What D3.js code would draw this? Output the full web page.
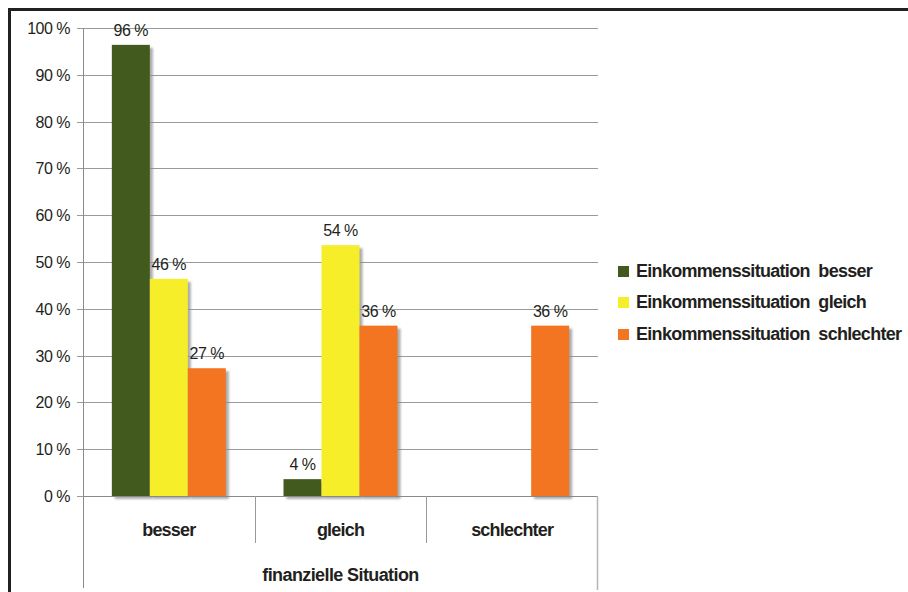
<!DOCTYPE html>
<html><head><meta charset="utf-8">
<script src="https://cdn.jsdelivr.net/npm/d3@7"></script>
<style>body{margin:0;background:#fff}svg{display:block}</style>
</head><body>
<script>
const categories = ["besser", "gleich", "schlechter"];
const seriesNames = ["Einkommenssituation  besser", "Einkommenssituation  gleich", "Einkommenssituation  schlechter"];
const seriesBesser = [96.4, 3.6, 0];
const seriesGleich = [46.4, 53.6, 0];
const seriesSchlechter = [27.3, 36.4, 36.4];
const valueLabels = [["96 %", "4 %", null], ["46 %", "54 %", null], ["27 %", "36 %", "36 %"]];
const yTicks = [0,10,20,30,40,50,60,70,80,90,100];
const colors = ["#425a1e", "#f7ee2a", "#f37421"];
const groupTitle = "finanzielle Situation";

const series = [seriesBesser, seriesGleich, seriesSchlechter];
const W = 908, H = 592;
const L = 83, R = 598, T = 28, B = 496;
const svg = d3.select("body").append("svg").attr("width", W).attr("height", H);
const font = "'Liberation Sans', Arial, sans-serif";

const defs = svg.append("defs");
const f = defs.append("filter").attr("id","sh").attr("x","-20%").attr("y","-20%").attr("width","160%").attr("height","160%");
f.append("feGaussianBlur").attr("stdDeviation", 1.2);

// frame
svg.append("line").attr("x1",8).attr("x2",W).attr("y1",9.5).attr("y2",9.5).attr("stroke","#231f20").attr("stroke-width",3);
svg.append("line").attr("x1",9.5).attr("x2",9.5).attr("y1",8).attr("y2",H).attr("stroke","#231f20").attr("stroke-width",3);

const y = d3.scaleLinear().domain([0,100]).range([B,T]);
const x0 = d3.scaleBand().domain(categories).range([L,R]).paddingInner(0).paddingOuter(0);
const x1 = d3.scaleBand().domain(d3.range(3)).range([0, 114]);
const groupOffset = (x0.bandwidth() - 114)/2;

// gridlines
svg.append("g").selectAll("line").data(yTicks).join("line")
  .attr("x1", L-6).attr("x2", R).attr("y1", d=>Math.round(y(d))+0.5).attr("y2", d=>Math.round(y(d))+0.5)
  .attr("stroke", "#9a9a9a").attr("stroke-width", 1);

// y labels
svg.append("g").selectAll("text").data(yTicks).join("text")
  .attr("x", 70).attr("y", d=>y(d)+6).attr("text-anchor","end")
  .attr("font-family", font).attr("font-size", 16).attr("fill","#231f20").attr("letter-spacing","-0.5")
  .text(d=>d+" %");

// bars
const bars = svg.append("g");
series.forEach((s, si) => {
  s.forEach((v, ci) => {
    if (v <= 0) return;
    const bx = x0(categories[ci]) + groupOffset + x1(si);
    const by = y(v), bh = B - y(v), bw = x1.bandwidth();
    bars.append("rect").attr("x", bx+3).attr("y", by+3).attr("width", bw).attr("height", bh)
      .attr("fill","#8a8a8a").attr("opacity",0.7).attr("filter","url(#sh)");
  });
});
series.forEach((s, si) => {
  s.forEach((v, ci) => {
    if (v <= 0) return;
    const bx = x0(categories[ci]) + groupOffset + x1(si);
    bars.append("rect").attr("x", bx).attr("y", y(v)).attr("width", x1.bandwidth()).attr("height", B - y(v))
      .attr("fill", colors[si]);
    const lab = valueLabels[si][ci];
    if (lab) bars.append("text").attr("x", bx + x1.bandwidth()/2).attr("y", y(v) - 9)
      .attr("text-anchor","middle").attr("font-family", font).attr("font-size", 16)
      .attr("fill","#231f20").attr("letter-spacing","-0.5").text(lab);
  });
});

// axes lines
svg.append("line").attr("x1",L+0.5).attr("x2",L+0.5).attr("y1",T).attr("y2",588).attr("stroke","#8a8a8a");
svg.append("line").attr("x1",L).attr("x2",R).attr("y1",B+0.5).attr("y2",B+0.5).attr("stroke","#8a8a8a");
svg.append("g").selectAll("line").data(categories.slice(1)).join("line")
  .attr("x1", d=>Math.round(x0(d))+0.5).attr("x2", d=>Math.round(x0(d))+0.5).attr("y1",B).attr("y2",543)
  .attr("stroke","#9a9a9a");
svg.append("line").attr("x1",R-0.5).attr("x2",R-0.5).attr("y1",B).attr("y2",590).attr("stroke","#b5b5b5").attr("stroke-width",1.5);

// category labels
svg.append("g").selectAll("text").data(categories).join("text")
  .attr("x", d=>x0(d)+x0.bandwidth()/2).attr("y", 536).attr("text-anchor","middle")
  .attr("font-family", font).attr("font-weight","bold").attr("font-size", 18).attr("letter-spacing","-0.8")
  .attr("fill","#231f20").text(d=>d);
svg.append("text").attr("x", (L+R)/2).attr("y", 581).attr("text-anchor","middle")
  .attr("font-family", font).attr("font-weight","bold").attr("font-size", 18).attr("letter-spacing","-0.6")
  .attr("fill","#231f20").text(groupTitle);

// legend
const lg = svg.append("g");
const ly = [271, 302, 334];
seriesNames.forEach((n, i) => {
  lg.append("rect").attr("x", 618).attr("y", ly[i]-5).attr("width", 11).attr("height", 11).attr("fill", colors[i]);
  lg.append("text").attr("x", 636).attr("y", ly[i]+6).attr("font-family", font).attr("font-weight","bold")
    .attr("font-size", 18).attr("letter-spacing","-0.7").attr("fill","#231f20")
    .attr("xml:space","preserve").style("white-space","pre").text(n);
});
</script>
</body></html>
